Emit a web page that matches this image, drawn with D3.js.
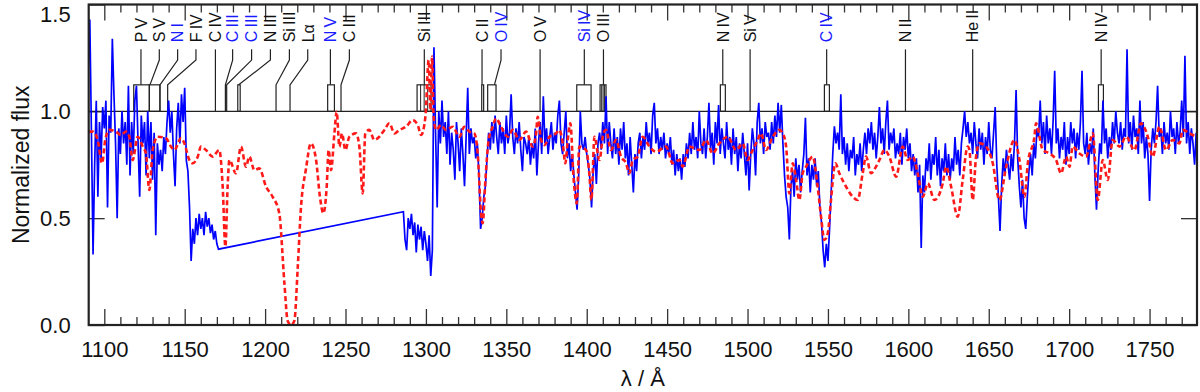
<!DOCTYPE html>
<html lang="en">
<head>
<meta charset="UTF-8">
<script src="https://d3js.org/d3.v7.min.js"></script>
<style>
  body { margin: 0; background: #fff; }
  svg text { font-family: "Liberation Sans", Arial, sans-serif; }
</style>
</head>
<body>
<svg id="chart"></svg>
<script>
// observed spectrum (blue), 1 A sampling, two pieces with a gap between them
const obsStartA = 1090, obsStartB = 1286, obsStep = 1;
const obsFluxA = [
  1.20, 1.43, 0.90, 0.33, 0.75, 1.05, 0.60, 0.95, 0.78, 1.02,
  0.92, 1.05, 0.55, 0.98, 0.90, 1.34, 1.08, 0.85, 0.50, 0.92,
  0.80, 1.00, 0.85, 0.95, 0.75, 1.12, 0.70, 0.95, 0.80, 1.05,
  1.12, 0.85, 0.60, 0.98, 0.85, 0.95, 0.70, 1.00, 0.78, 0.95,
  0.68, 0.90, 0.42, 0.85, 0.75, 0.82, 0.72, 0.88, 0.80, 0.95,
  1.05, 0.90, 1.00, 0.80, 0.65, 0.92, 1.04, 0.85, 1.08, 0.95,
  1.11, 0.77, 0.72, 0.55, 0.30, 0.45, 0.38, 0.50, 0.42, 0.52,
  0.45, 0.50, 0.42, 0.53, 0.46, 0.50, 0.43, 0.47, 0.40, 0.44,
  0.38, 0.355
];
const obsFluxB = [
  0.53, 0.40, 0.35, 0.50, 0.45, 0.52, 0.42, 0.48, 0.34, 0.47,
  0.40, 0.46, 0.35, 0.44, 0.38, 0.30, 0.42, 0.23, 0.35, 1.30,
  0.90, 0.55, 1.00, 0.85, 1.05, 0.88, 0.95, 0.80, 1.00, 0.75,
  0.90, 0.82, 0.68, 0.95, 0.85, 0.72, 0.92, 0.80, 0.65, 0.88,
  1.11, 0.80, 0.92, 0.85, 0.88, 0.78, 0.85, 0.70, 0.45, 0.50,
  0.60, 0.65, 0.78, 0.90, 0.82, 0.95, 0.85, 0.98, 0.88, 0.80,
  0.95, 0.85, 0.92, 0.80, 0.98, 0.85, 0.90, 1.08, 0.88, 0.80,
  0.92, 0.85, 0.95, 0.82, 0.72, 0.88, 0.85, 0.80, 0.88, 0.75,
  0.85, 0.78, 0.92, 0.70, 0.85, 0.95, 0.80, 1.07, 0.85, 0.92,
  0.80, 0.88, 0.95, 0.82, 0.90, 0.85, 0.98, 1.05, 0.85, 0.80,
  0.90, 1.00, 0.78, 0.85, 0.72, 0.80, 0.70, 0.62, 0.54, 0.70,
  1.00, 0.85, 0.82, 0.88, 0.80, 0.75, 0.68, 0.55, 0.72, 0.80,
  0.66, 0.85, 0.90, 0.82, 0.95, 0.85, 1.07, 0.80, 0.95, 0.85,
  0.78, 0.92, 0.80, 0.88, 0.75, 0.92, 0.82, 0.95, 0.78, 0.85,
  0.70, 0.88, 0.75, 0.62, 0.80, 0.72, 0.85, 0.90, 0.78, 0.88,
  0.82, 0.95, 0.85, 0.90, 0.80, 0.98, 1.04, 0.85, 0.92, 0.80,
  0.88, 0.82, 0.90, 0.78, 0.85, 0.80, 0.88, 0.75, 0.82, 0.70,
  0.80, 0.72, 0.78, 0.68, 0.80, 0.74, 0.85, 0.78, 0.90, 0.80,
  0.95, 0.82, 0.88, 0.78, 1.00, 0.85, 0.80, 0.92, 0.78, 0.88,
  1.04, 0.82, 0.90, 0.75, 0.95, 0.85, 1.03, 0.80, 0.92, 0.85,
  0.78, 0.95, 0.82, 0.88, 0.75, 0.92, 0.80, 0.88, 0.72, 0.85,
  0.78, 0.90, 0.80, 0.70, 0.85, 0.63, 0.80, 0.92, 0.85, 0.70,
  0.95, 1.04, 0.85, 0.92, 0.80, 0.95, 0.88, 0.90, 0.82, 0.95,
  0.85, 0.98, 0.88, 1.04, 0.90, 1.03, 0.85, 0.70, 0.60, 0.55,
  0.40, 0.65, 0.72, 0.60, 0.78, 0.68, 0.75, 0.62, 0.72, 0.80,
  0.97, 0.70, 0.78, 0.62, 0.75, 0.68, 0.78, 0.65, 0.72, 0.55,
  0.48, 0.35, 0.27, 0.38, 0.30, 0.45, 0.62, 0.80, 0.93, 0.85,
  0.90, 0.82, 1.08, 0.80, 0.88, 0.75, 0.85, 0.72, 0.82, 0.78,
  0.88, 0.70, 0.80, 0.75, 0.85, 0.72, 0.82, 0.90, 0.80, 0.92,
  0.85, 0.95, 0.82, 0.90, 0.78, 0.88, 1.02, 0.85, 0.92, 0.80,
  0.95, 1.05, 0.82, 0.90, 0.85, 0.92, 0.78, 0.85, 0.80, 0.90,
  0.75, 0.88, 0.82, 0.92, 0.78, 0.85, 0.72, 0.80, 0.70, 0.78,
  0.62, 0.75, 0.36, 0.70, 0.62, 0.78, 0.72, 0.85, 0.68, 0.80,
  0.75, 0.88, 0.70, 0.82, 0.65, 0.78, 0.72, 0.85, 0.70, 0.80,
  0.68, 0.78, 0.72, 0.88, 0.75, 0.82, 0.70, 0.85, 0.92, 1.00,
  0.88, 0.95, 0.85, 0.90, 0.80, 0.95, 0.85, 0.78, 0.92, 0.82,
  0.90, 0.75, 0.88, 0.80, 0.95, 0.82, 0.78, 0.90, 1.02, 0.75,
  0.60, 0.44, 0.65, 0.78, 0.70, 0.82, 0.75, 0.68, 0.80, 0.72,
  0.85, 1.10, 0.78, 0.65, 0.55, 0.68, 0.50, 0.45, 0.60, 0.72,
  0.80, 0.70, 0.85, 0.78, 0.92, 0.88, 1.05, 0.85, 0.95, 0.80,
  0.98, 0.85, 0.92, 0.80, 0.95, 1.19, 0.85, 0.92, 0.78, 0.88,
  0.82, 0.95, 0.75, 0.88, 0.80, 0.95, 0.85, 0.92, 0.78, 0.90,
  0.82, 0.95, 1.19, 0.85, 0.80, 0.90, 0.75, 0.85, 0.80, 0.92,
  0.70, 0.54, 0.72, 0.85, 0.80, 1.05, 0.85, 0.92, 0.78, 0.88,
  0.82, 0.95, 0.85, 1.00, 0.90, 0.85, 0.95, 0.82, 0.92, 0.88,
  1.29, 0.85, 0.95, 0.82, 0.98, 0.88, 0.92, 0.80, 1.05, 0.85,
  0.95, 0.78, 0.88, 0.80, 0.58, 0.82, 0.92, 0.85, 0.95, 1.12,
  0.88, 0.92, 0.80, 0.95, 0.85, 0.90, 0.82, 1.00, 0.88, 0.92,
  0.80, 0.95, 0.85, 0.90, 1.05, 0.88, 1.26, 0.85, 0.95, 0.80,
  0.92, 0.85, 0.75, 0.90
];

// model spectrum (red dashed)
const modelWave = [
  1090.3, 1092.8, 1095.9, 1098.6, 1100.6, 1103.1, 1107.3, 1110.4, 1113.5, 1115.6,
  1117.6, 1120.8, 1123.9, 1125.9, 1128.0, 1130.1, 1133.2, 1138.4, 1141.5, 1143.6,
  1147.7, 1149.8, 1152.9, 1155.0, 1158.1, 1160.1, 1163.2, 1167.4, 1171.5, 1173.6,
  1175.3, 1176.7, 1177.8, 1181.9, 1185.0, 1188.1, 1190.2, 1193.3, 1196.4, 1200.6,
  1204.7, 1208.8, 1212.0, 1214.0, 1216.1, 1218.2, 1220.3, 1222.3, 1225.4, 1228.5,
  1231.7, 1234.1, 1236.2, 1238.3, 1239.5, 1241.0, 1243.1, 1244.5, 1246.2, 1247.8,
  1249.9, 1252.4, 1256.5, 1258.6, 1260.7, 1262.3, 1264.8, 1267.9, 1271.0, 1274.2,
  1277.3, 1280.4, 1283.5, 1287.6, 1291.8, 1294.9, 1297.0, 1299.7, 1301.7, 1302.8,
  1303.8, 1304.8, 1306.3, 1309.4, 1312.5, 1316.7, 1320.8, 1323.9, 1327.0, 1330.1,
  1332.2, 1334.3, 1335.3, 1337.0, 1339.0, 1341.5, 1343.6, 1346.7, 1350.9, 1354.0,
  1358.1, 1362.3, 1366.4, 1368.5, 1369.5, 1371.6, 1373.7, 1376.8, 1381.0, 1383.0,
  1385.1, 1386.7, 1388.2, 1389.8, 1391.9, 1393.8, 1395.4, 1399.6, 1401.6, 1402.9,
  1404.8, 1407.9, 1410.4, 1412.0, 1415.1, 1418.2, 1421.3, 1424.5, 1426.5, 1428.6,
  1431.7, 1434.8, 1439.0, 1443.1, 1449.3, 1453.5, 1457.6, 1459.7, 1463.8, 1470.1,
  1474.2, 1478.3, 1482.5, 1487.7, 1492.9, 1497.0, 1500.1, 1502.2, 1506.3, 1508.4,
  1511.5, 1515.7, 1519.8, 1521.9, 1524.0, 1526.0, 1528.1, 1530.2, 1532.2, 1534.3,
  1536.4, 1540.5, 1543.6, 1545.7, 1547.8, 1549.9, 1551.9, 1554.6, 1557.1, 1561.3,
  1565.4, 1568.5, 1571.6, 1573.7, 1576.8, 1579.9, 1582.0, 1585.1, 1588.2, 1592.4,
  1596.5, 1599.6, 1602.7, 1605.8, 1609.0, 1612.1, 1616.2, 1621.4, 1623.5, 1626.6,
  1630.7, 1633.8, 1636.9, 1638.0, 1640.0, 1642.1, 1644.2, 1648.3, 1652.5, 1656.6,
  1660.8, 1666.0, 1669.1, 1672.2, 1674.3, 1678.4, 1679.4, 1683.6, 1687.7, 1691.9,
  1695.0, 1698.1, 1700.2, 1702.2, 1706.4, 1710.5, 1714.7, 1717.8, 1720.9, 1724.0,
  1727.1, 1731.3, 1735.4, 1740.6, 1744.7, 1748.9, 1752.0, 1756.1, 1760.3, 1764.4,
  1768.6, 1770.6, 1774.8, 1779.0
];
const modelFlux = [
  0.905, 0.905, 0.866, 0.757, 0.866, 0.913, 0.905, 0.889, 0.905, 0.881,
  0.772, 0.881, 0.835, 0.803, 0.632, 0.819, 0.881, 0.874, 0.835, 0.819,
  0.874, 0.850, 0.772, 0.757, 0.788, 0.835, 0.819, 0.788, 0.819, 0.650,
  0.367, 0.650, 0.772, 0.710, 0.835, 0.741, 0.788, 0.725, 0.733, 0.647,
  0.600, 0.523, 0.195, 0.020, 0.000, 0.020, 0.270, 0.550, 0.730, 0.850,
  0.772, 0.600, 0.523, 0.647, 0.819, 0.725, 0.897, 0.998, 0.835, 0.897,
  0.819, 0.881, 0.897, 0.835, 0.616, 0.897, 0.913, 0.866, 0.881, 0.913,
  0.944, 0.897, 0.913, 0.928, 0.959, 0.936, 0.889, 0.975, 1.240, 1.006,
  1.256, 0.975, 0.913, 0.936, 0.913, 0.928, 0.881, 0.928, 0.905, 0.897,
  0.803, 0.523, 0.476, 0.679, 0.866, 0.928, 0.967, 0.928, 0.881, 0.913,
  0.866, 0.905, 0.835, 0.897, 0.975, 0.866, 0.842, 0.881, 0.897, 0.913,
  0.850, 0.757, 0.866, 0.944, 0.679, 0.569, 0.835, 0.819, 0.710, 0.585,
  0.881, 0.772, 0.897, 0.913, 0.819, 0.866, 0.788, 0.757, 0.710, 0.772,
  0.788, 0.881, 0.835, 0.811, 0.835, 0.757, 0.772, 0.741, 0.835, 0.819,
  0.866, 0.803, 0.850, 0.881, 0.819, 0.850, 0.772, 0.803, 0.866, 0.897,
  0.819, 0.881, 0.913, 0.897, 0.835, 0.616, 0.757, 0.679, 0.585, 0.710,
  0.741, 0.788, 0.647, 0.507, 0.398, 0.429, 0.585, 0.757, 0.710, 0.647,
  0.600, 0.585, 0.710, 0.788, 0.710, 0.741, 0.772, 0.819, 0.788, 0.694,
  0.835, 0.772, 0.788, 0.710, 0.600, 0.663, 0.585, 0.663, 0.741, 0.647,
  0.507, 0.679, 0.835, 0.819, 0.585, 0.788, 0.850, 0.835, 0.757, 0.585,
  0.741, 0.866, 0.772, 0.600, 0.757, 0.881, 0.944, 0.819, 0.803, 0.772,
  0.710, 0.788, 0.741, 0.835, 0.803, 0.788, 0.897, 0.585, 0.772, 0.679,
  0.866, 0.835, 0.881, 0.819, 0.944, 0.881, 0.788, 0.928, 0.819, 0.866,
  0.850, 0.913, 0.897, 0.881
];

// line identifications
const idNames = ["P\u2009V", "S\u2009V", "N\u2009I", "F\u2009IV", "C\u2009IV", "C\u2009III", "C\u2009III", "N\u2009III",
  "Si\u2009III", "L\u03b1", "N\u2009V", "C\u2009III", "Si\u2009III", "C\u2009II", "O\u2009IV", "O\u2009V", "Si\u2009IV",
  "O\u2009III", "N\u2009IV", "Si\u2009V", "C\u2009IV", "N\u2009II", "He\u2009II", "N\u2009IV"];
const idLabelWave = [1122.8, 1134.2, 1145.6, 1157.0, 1169.1, 1179.8, 1191.6, 1203.3, 1215.1, 1226.5, 1240.6, 1252.4,
  1299.0, 1334.9, 1346.7, 1371.0, 1398.5, 1410.4, 1484.6, 1501.6, 1549.2, 1598.2, 1640.0, 1719.9];
const idLineWave = [1122.8, 1128.4, 1134.6, 1139.4, 1169.1, 1175.3, 1176.1, 1183.6, 1206.8, 1215.5, 1240.6, 1247.2,
  1299.0, 1334.9, 1342.6, 1371.0, 1398.5, 1410.4, 1484.6, 1501.6, 1549.2, 1598.2, 1640.0, 1719.9];
const idBoxFrom = [1118.3, 1128.0, null, null, null, null, null, 1183.0, null, null, 1238.9, null,
  1294.5, 1334.7, 1338.4, null, 1393.8, 1408.3, 1483.1, null, 1547.8, null, null, 1718.2];
const idBoxTo = [1128.0, 1134.6, null, null, null, null, null, 1184.5, null, null, 1243.1, null,
  1303.2, 1335.9, 1343.6, null, 1402.7, 1412.0, 1486.2, null, 1550.9, null, null, 1721.3];
const idBlue = [2, 5, 6, 10, 14, 16, 20];
const multipletWave = [1296.7, 1298.9, 1301.1, 1409.3, 1410.2, 1411.1];

const xMajor = [1100, 1150, 1200, 1250, 1300, 1350, 1400, 1450, 1500, 1550, 1600, 1650, 1700, 1750];
const yMajor = [0, 0.5, 1.0, 1.5];

const W = 1200, H = 392;
const svg = d3.select("#chart").attr("width", W).attr("height", H);

const x = d3.scaleLinear().domain([1090.3, 1779.5]).range([88.7, 1197]);
const y = d3.scaleLinear().domain([0, 1.5]).range([325, 4.5]);
const [x0, x1] = x.range(), [y0, y1] = y.range();

const xMinor = d3.range(1100, 1780, 10).filter(v => v % 50 !== 0);

svg.append("defs").append("clipPath").attr("id", "plot")
  .append("rect").attr("x", x0).attr("y", y1).attr("width", x1 - x0).attr("height", y0 - y1);

function styleAxis(g) {
  g.select(".domain").remove();
  g.selectAll("line").attr("stroke", "#333").attr("stroke-width", 1.3);
  g.selectAll("text").attr("font-size", 22).attr("fill", "#111")
    .attr("font-family", "'Liberation Sans', Arial, sans-serif");
}

// bottom / top ticks point inward
svg.append("g").attr("transform", `translate(0,${y0})`)
  .call(d3.axisBottom(x).tickValues(xMajor).tickSize(-16).tickPadding(16).tickFormat(d3.format("d")))
  .call(styleAxis);
svg.append("g").attr("transform", `translate(0,${y0})`)
  .call(d3.axisBottom(x).tickValues(xMinor).tickSize(-8).tickFormat(""))
  .call(styleAxis);
svg.append("g").attr("transform", `translate(0,${y1})`)
  .call(d3.axisTop(x).tickValues(xMajor).tickSize(-16).tickFormat(""))
  .call(styleAxis);
svg.append("g").attr("transform", `translate(0,${y1})`)
  .call(d3.axisTop(x).tickValues(xMinor).tickSize(-8).tickFormat(""))
  .call(styleAxis);

const yAxis = svg.append("g").attr("transform", `translate(${x0},0)`)
  .call(d3.axisLeft(y).tickValues(yMajor).tickSize(-16).tickPadding(18).tickFormat(d3.format(".1f")))
  .call(styleAxis);
// top label sits a bit lower so it stays on the page
yAxis.selectAll(".tick").filter(d => d === 1.5).select("text").attr("y", 9.5);
svg.append("g").attr("transform", `translate(${x1},0)`)
  .call(d3.axisRight(y).tickValues(yMajor).tickSize(-16).tickFormat(""))
  .call(styleAxis);

// axis titles
svg.append("text")
  .attr("transform", `translate(28.5,${(y0 + y1) / 2}) rotate(-90)`)
  .attr("text-anchor", "middle").attr("font-size", 23).attr("fill", "#111")
  .text("Normalized flux");
svg.append("text")
  .attr("x", (x0 + x1) / 2).attr("y", 386)
  .attr("text-anchor", "middle").attr("font-size", 22).attr("fill", "#111")
  .text("\u03bb / \u00c5");

// continuum level
svg.append("line")
  .attr("x1", x0).attr("x2", x1).attr("y1", y(1)).attr("y2", y(1))
  .attr("stroke", "#222").attr("stroke-width", 1.3);

// line identification marks
const labelBase = y(1.323), stemTop = y(1.29), knee = y(1.24), boxTop = y(1.124);
const ids = svg.append("g");
idNames.forEach((name, i) => {
  const lx = x(idLabelWave[i]), tx = x(idLineWave[i]);
  const blue = idBlue.includes(i);
  ids.append("text")
    .attr("transform", `translate(${lx + 5.8},${labelBase}) rotate(-90)`)
    .attr("font-size", 16).attr("fill", blue ? "#1a1aff" : "#111")
    .text(name);
  const pts = lx === tx
    ? [[lx, stemTop], [tx, boxTop]]
    : [[lx, stemTop], [lx, knee], [tx, boxTop]];
  if (idBoxFrom[i] === null) pts.push([tx, y(1)]);
  ids.append("path")
    .attr("d", d3.line()(pts))
    .attr("fill", "none").attr("stroke", "#222").attr("stroke-width", 1.2);
  if (idBoxFrom[i] !== null) {
    ids.append("rect")
      .attr("x", x(idBoxFrom[i])).attr("y", boxTop)
      .attr("width", x(idBoxTo[i]) - x(idBoxFrom[i])).attr("height", y(1) - boxTop)
      .attr("fill", "none").attr("stroke", "#222").attr("stroke-width", 1.2);
  }
});
ids.selectAll(".multiplet").data(multipletWave).enter().append("line")
  .attr("x1", d => x(d)).attr("x2", d => x(d))
  .attr("y1", boxTop).attr("y2", y(1))
  .attr("stroke", "#222").attr("stroke-width", 1);

// spectra
const obs = obsFluxA.map((f, i) => [obsStartA + i * obsStep, f])
  .concat(obsFluxB.map((f, i) => [obsStartB + i * obsStep, f]));
const model = modelWave.map((w, i) => [w, modelFlux[i]]);

const plot = svg.append("g").attr("clip-path", "url(#plot)");
plot.append("path")
  .attr("d", d3.line().x(d => x(d[0])).y(d => y(d[1]))(obs))
  .attr("fill", "none").attr("stroke", "#0000ff").attr("stroke-width", 1.7)
  .attr("stroke-linejoin", "miter");
plot.append("path")
  .attr("d", d3.line().x(d => x(d[0])).y(d => y(d[1])).curve(d3.curveMonotoneX)(model))
  .attr("fill", "none").attr("stroke", "#ff1a1a").attr("stroke-width", 2.6)
  .attr("stroke-dasharray", "5,3");

// frame
svg.append("rect")
  .attr("x", x0).attr("y", y1).attr("width", x1 - x0).attr("height", y0 - y1)
  .attr("fill", "none").attr("stroke", "#222").attr("stroke-width", 2.2);
</script>
</body>
</html>
